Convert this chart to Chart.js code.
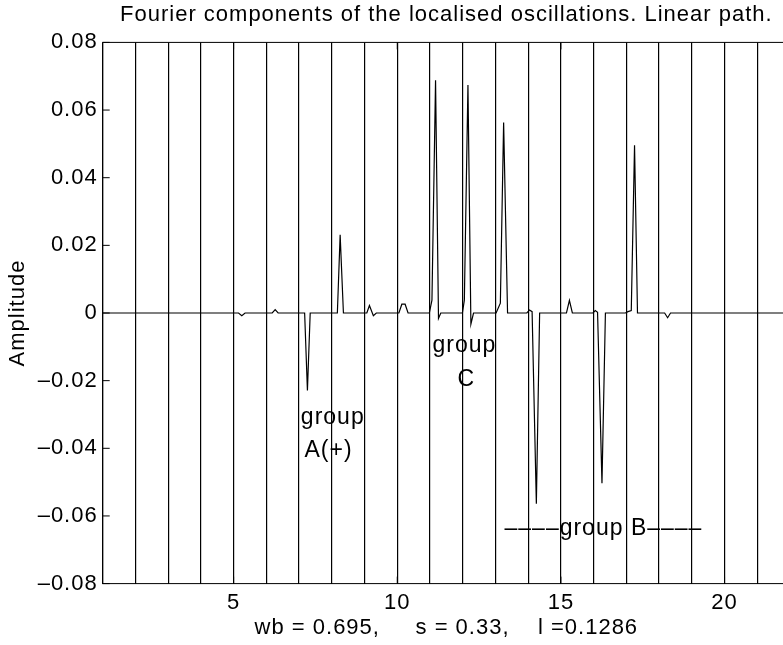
<!DOCTYPE html>
<html>
<head>
<meta charset="utf-8">
<title>Fourier components</title>
<script src="https://cdn.jsdelivr.net/npm/chart.js@4.4.1/dist/chart.umd.min.js"></script>
<style>
    html, body { margin: 0; padding: 0; background: #fff; overflow: hidden; }
    canvas { display: block; }
</style>
</head>
<body>
<canvas id="fourierChart" width="800" height="645"></canvas>
<script>
// --- datos --- //

const xValues = [
    1,
    5.15, 5.25, 5.35,
    6.18, 6.27, 6.36,
    7.17, 7.255, 7.34,
    8.17, 8.255, 8.355,
    9.07, 9.15, 9.27, 9.36,
    10.05, 10.14, 10.24, 10.33,
    10.98, 11.06, 11.17, 11.26, 11.33,
    11.99, 12.05, 12.16, 12.25, 12.33,
    13.02, 13.15, 13.25, 13.37,
    13.96, 14.04, 14.12, 14.25, 14.35,
    15.17, 15.26, 15.35,
    15.98, 16.05, 16.12, 16.255, 16.36,
    16.97, 17.05, 17.15, 17.25, 17.34,
    18.17, 18.26, 18.35,
    22
];

const amplitudes = [
    0,
    0, -0.0008, 0,
    0, 0.001, 0,
    0, -0.0229, 0,
    0, 0.0231, 0,
    0, 0.0022, -0.0008, 0,
    0, 0.0026, 0.0026, 0,
    0, 0.0038, 0.0688, -0.0016, 0,
    0, 0.0038, 0.0674, -0.0033, 0,
    0, 0.0029, 0.0563, 0,
    0, 0.0009, 0.0004, -0.0564, 0,
    0, 0.0037, 0,
    0, 0.0007, 0.0002, -0.0503, 0,
    0, 0.0004, 0.0007, 0.0496, 0,
    0, -0.0014, 0,
    0
];

const xTickLabels = [5, 10, 15, 20];
const yTickValues = [-0.08, -0.06, -0.04, -0.02, 0, 0.02, 0.04, 0.06, 0.08];

const titleText = 'Fourier components of the localised oscillations. Linear path.';
const xTitleText = 'wb = 0.695,     s = 0.33,    l =0.1286';
const yTitleText = 'Amplitude';

const noteTexts = ['group', 'A(+)', 'group', 'C', '\u2013\u2013\u2013\u2013group B\u2013\u2013\u2013\u2013'];
const noteX = [8.03, 7.9, 12.05, 12.11, 16.3];
const noteY = [-0.0328, -0.0425, -0.0115, -0.0216, -0.0656];

// --- estilo --- //

const fontFamily = '"Liberation Sans", Arial, Helvetica, sans-serif';
const ink = '#000000';
const tickMark = 7;

function fmtY(v) {
    if (Math.abs(v) < 1e-9) return '0';
    const s = Math.abs(v).toFixed(2);
    return v < 0 ? '\u2013' + s : s;
}

// Plugin: caja, marcas hacia dentro y textos de grupos
const frameAndNotes = {
    id: 'frameAndNotes',
    beforeLayout(chart) {
        chart.ctx.letterSpacing = '1px';
    },
    beforeDraw(chart) {
        chart.ctx.letterSpacing = '1px';
    },
    afterDatasetsDraw(chart) {
        const { ctx, chartArea: { left, right, top, bottom }, scales: { x, y } } = chart;
        ctx.save();
        ctx.strokeStyle = ink;
        ctx.lineWidth = 1;
        ctx.beginPath();
        yTickValues.forEach(v => {
            const py = y.getPixelForValue(v);
            ctx.moveTo(left, py); ctx.lineTo(left + tickMark, py);
            ctx.moveTo(right, py); ctx.lineTo(right - tickMark, py);
        });
        xTickLabels.forEach(v => {
            const px = x.getPixelForValue(v);
            ctx.moveTo(px, bottom); ctx.lineTo(px, bottom - tickMark);
            ctx.moveTo(px, top); ctx.lineTo(px, top + tickMark);
        });
        ctx.stroke();
        ctx.strokeRect(left, top, right - left, bottom - top);

        ctx.fillStyle = ink;
        ctx.font = `23px ${fontFamily}`;
        ctx.textAlign = 'center';
        ctx.textBaseline = 'alphabetic';
        noteTexts.forEach((t, i) => {
            ctx.fillText(t, x.getPixelForValue(noteX[i]), y.getPixelForValue(noteY[i]));
        });
        ctx.restore();
    }
};

const points = xValues.map((v, i) => ({ x: v, y: amplitudes[i] }));

new Chart(document.getElementById('fourierChart'), {
    type: 'line',
    data: {
        datasets: [{
            data: points,
            borderColor: ink,
            borderWidth: 1.2,
            pointRadius: 0,
            tension: 0,
            fill: false
        }]
    },
    plugins: [frameAndNotes],
    options: {
        responsive: false,
        animation: false,
        events: [],
        layout: { padding: { left: 0, right: 10, top: 0, bottom: 0 } },
        plugins: {
            legend: { display: false },
            tooltip: { enabled: false },
            title: {
                display: true,
                text: titleText,
                fullSize: false,
                color: ink,
                font: { family: fontFamily, size: 22, weight: 'normal' },
                padding: { top: 2, bottom: 14 }
            }
        },
        scales: {
            x: {
                type: 'linear',
                min: 1,
                max: 22,
                afterFit(scale) { scale.height = 61.4; },
                grid: { color: ink, lineWidth: 1.2, drawTicks: false },
                border: { display: false },
                ticks: {
                    stepSize: 1,
                    autoSkip: false,
                    maxRotation: 0,
                    padding: 6,
                    color: ink,
                    font: { family: fontFamily, size: 22 },
                    callback: (v) => xTickLabels.includes(v) ? String(v) : ''
                },
                title: {
                    display: true,
                    text: xTitleText,
                    color: ink,
                    font: { family: fontFamily, size: 22 },
                    padding: { top: 0, bottom: 4 }
                }
            },
            y: {
                min: -0.08,
                max: 0.08,
                afterFit(scale) { scale.width = 102.7; },
                grid: { display: false, drawTicks: false },
                border: { display: false },
                ticks: {
                    stepSize: 0.02,
                    padding: 5,
                    color: ink,
                    font: { family: fontFamily, size: 22 },
                    callback: (v) => fmtY(v)
                },
                title: {
                    display: true,
                    text: yTitleText,
                    color: ink,
                    font: { family: fontFamily, size: 22 },
                    padding: { top: 5, bottom: 0 }
                }
            }
        }
    }
});
</script>
</body>
</html>
